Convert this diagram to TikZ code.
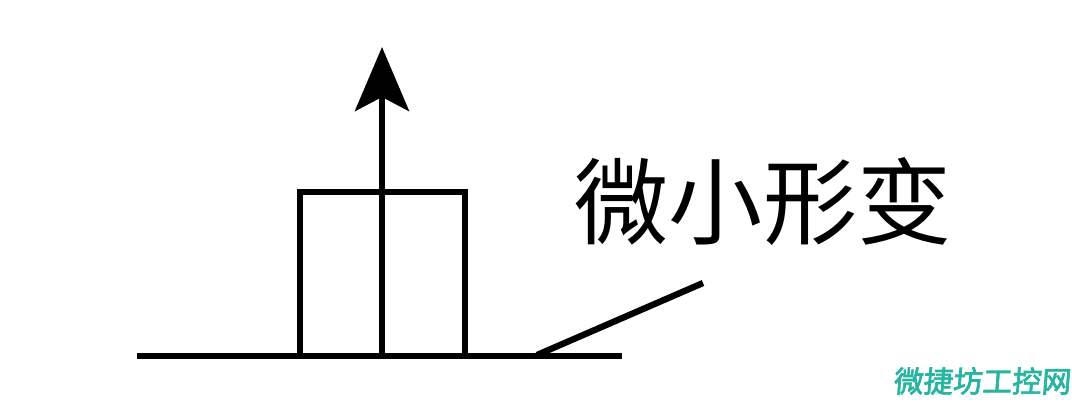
\documentclass[tikz,border=0pt]{standalone}
\usepackage{fontspec}
\newfontfamily\cjk{Noto Sans CJK SC}
\newfontfamily\cjkheavy[FakeBold=2.5,FakeSlant=0.08]{Noto Sans CJK SC}
\usetikzlibrary{arrows.meta}
\definecolor{markteal}{RGB}{40,180,160}
\tikzset{bar/.style={line width=4.5pt}}
\begin{document}
\begin{tikzpicture}[x=0.025cm,y=-0.025cm]
 \useasboundingbox (0,0) rectangle (1072,404);
 \draw[bar] (137,356) -- (622,356);
 \draw[bar] (300,356) |- (465,192) -- (465,356);
 %
 \coordinate (foot) at (382,356);
 \coordinate (tip) at (382,47);
 \draw[bar,-{Stealth[length=1.6cm,width=1.35cm,inset=0.35cm]}] (foot) -- (tip);
 %
 \coordinate (bend) at (537,355);
 \coordinate (lift) at (703,283);
 \draw[bar] (bend) -- (lift);
 \node (label) at (763,202) {\cjk\fontsize{67pt}{67pt}\selectfont 微小形变};
 \node[markteal] (mark) at (982,381) {\cjkheavy\fontsize{21pt}{21pt}\selectfont 微捷坊工控网};
\end{tikzpicture}
\end{document}
